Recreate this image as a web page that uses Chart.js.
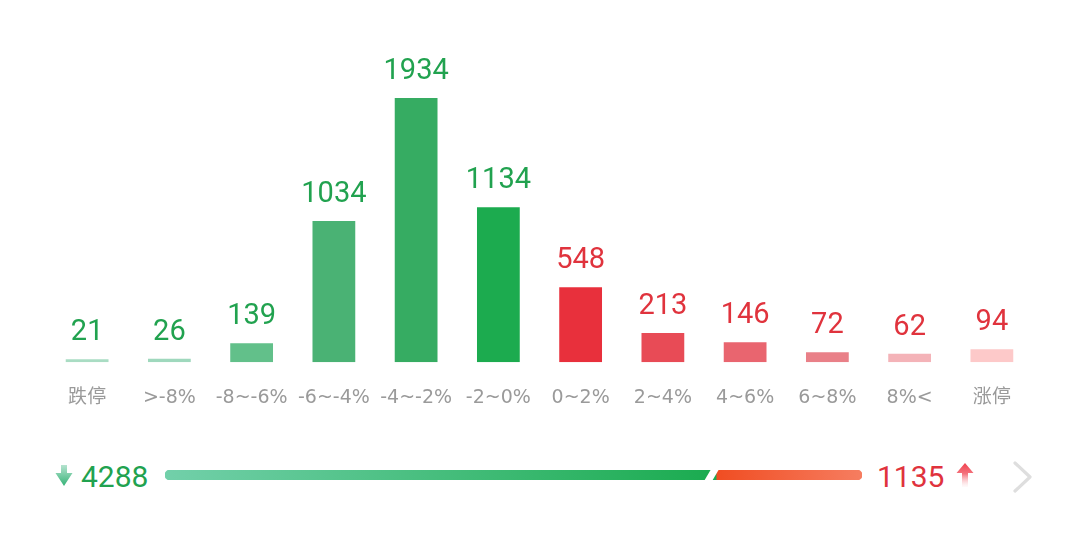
<!DOCTYPE html>
<html>
<head>
<meta charset="utf-8">
<script src="https://cdn.jsdelivr.net/npm/chart.js@4.4.1/dist/chart.umd.min.js"></script>
<style>
  html, body { margin: 0; padding: 0; background: #fff; }
  #wrap { position: relative; width: 1080px; height: 548px; overflow: hidden; font-family: Roboto, 'Noto Sans CJK SC', sans-serif; }
  #main { position: absolute; left: 0; top: 0; }
  #bar { position: absolute; left: 165px; top: 470px; }
  .num { position: absolute; top: 462px; font-size: 30px; line-height: 30px; font-weight: 400; }
  #down-num { left: 81px; color: #21a24f; }
  #up-num { left: 877px; color: #e0333d; }
  svg { position: absolute; }
</style>
</head>
<body>
<div id="wrap">
  <canvas id="main" width="1080" height="444"></canvas>
  <canvas id="bar" width="697" height="10"></canvas>

  <svg style="left:54px;top:464px" width="20" height="24" viewBox="0 0 20 24">
    <defs>
      <linearGradient id="gd" x1="0" y1="0" x2="0" y2="1">
        <stop offset="0" stop-color="#b5e3cf"/>
        <stop offset="1" stop-color="#36b377"/>
      </linearGradient>
    </defs>
    <path d="M7 1 H13 V9 H18.5 L10 22 L1.5 9 H7 Z" fill="url(#gd)"/>
  </svg>
  <div class="num" id="down-num"></div>

  <div class="num" id="up-num"></div>
  <svg style="left:955px;top:462px" width="20" height="26" viewBox="0 0 20 26">
    <defs>
      <linearGradient id="gu" x1="0" y1="0" x2="0" y2="1">
        <stop offset="0" stop-color="#f0414f"/>
        <stop offset="0.45" stop-color="#f4737d"/>
        <stop offset="1" stop-color="#fde5e7" stop-opacity="0.2"/>
      </linearGradient>
    </defs>
    <path d="M10 1 L18.5 11 H13 V25 H7 V11 H1.5 Z" fill="url(#gu)"/>
  </svg>

  <svg style="left:1010px;top:460px" width="26" height="34" viewBox="0 0 26 34">
    <polyline points="5,3 20,17 5,31" fill="none" stroke="#dedede" stroke-width="3.2" stroke-linejoin="round" stroke-linecap="round"/>
  </svg>
</div>

<script>
const categories = ['跌停', '>-8%', '-8~-6%', '-6~-4%', '-4~-2%', '-2~0%', '0~2%', '2~4%', '4~6%', '6~8%', '8%<', '涨停'];
const counts = [21, 26, 139, 1034, 1934, 1134, 548, 213, 146, 72, 62, 94];
const downTotal = 4288;
const upTotal = 1135;

const barColors = ['#a9dcc3', '#9fd8bd', '#62c08a', '#4ab274', '#36ac62', '#1cab4f',
                   '#e8303c', '#e84b56', '#e9656f', '#e98088', '#f4b3b8', '#fdc9c9'];
const greenText = '#21a24f';
const redText = '#e0333d';

document.querySelector('#down-num').textContent = downTotal;
document.querySelector('#up-num').textContent = upTotal;

const valueLabels = {
  id: 'valueLabels',
  afterDatasetsDraw(chart) {
    const ctx = chart.ctx;
    const meta = chart.getDatasetMeta(0);
    ctx.save();
    ctx.font = '400 29px Roboto';
    ctx.textAlign = 'center';
    ctx.textBaseline = 'alphabetic';
    meta.data.forEach((bar, i) => {
      ctx.fillStyle = i < 6 ? greenText : redText;
      ctx.fillText(String(counts[i]), bar.x, bar.y - 19);
    });
    ctx.restore();
  }
};

new Chart(document.querySelector('#main').getContext('2d'), {
  type: 'bar',
  data: {
    labels: categories,
    datasets: [{
      data: counts,
      backgroundColor: barColors,
      borderWidth: 0,
      categoryPercentage: 1,
      barPercentage: 0.52
    }]
  },
  options: {
    responsive: false,
    animation: false,
    devicePixelRatio: 1,
    layout: { padding: { left: 46, right: 47, top: 40, bottom: 11 } },
    plugins: { legend: { display: false }, tooltip: { enabled: false } },
    scales: {
      x: {
        grid: { display: false, drawTicks: false },
        border: { display: false },
        ticks: {
          color: '#9a9a9a',
          padding: 24,
          font: { family: "'DejaVu Sans', 'Noto Sans CJK SC'", size: 19 },
          maxRotation: 0,
          autoSkip: false
        }
      },
      y: { display: false, min: 0, max: 1934 * 322 / 264 }
    }
  },
  plugins: [valueLabels]
});

function barGradient(context, from, to, startVal, endVal) {
  const chart = context.chart;
  const area = chart.chartArea;
  if (!area) return from;
  const xs = chart.scales.x;
  const g = chart.ctx.createLinearGradient(xs.getPixelForValue(startVal), 0, xs.getPixelForValue(endVal), 0);
  g.addColorStop(0, from);
  g.addColorStop(1, to);
  return g;
}

const slantGap = {
  id: 'slantGap',
  afterDatasetsDraw(chart) {
    const ctx = chart.ctx;
    const x = chart.scales.x.getPixelForValue(downTotal);
    const top = chart.chartArea.top - 1;
    const bottom = chart.chartArea.bottom + 1;
    ctx.save();
    ctx.fillStyle = '#fff';
    ctx.beginPath();
    ctx.moveTo(x - 5, top);
    ctx.lineTo(x + 3, top);
    ctx.lineTo(x - 4, bottom);
    ctx.lineTo(x - 12, bottom);
    ctx.closePath();
    ctx.fill();
    ctx.restore();
  }
};

new Chart(document.querySelector('#bar').getContext('2d'), {
  type: 'bar',
  data: {
    labels: [''],
    datasets: [{
      data: [downTotal],
      backgroundColor: c => barGradient(c, '#72d0aa', '#1aab4f', 0, downTotal),
      borderRadius: { topLeft: 5, bottomLeft: 5, topRight: 0, bottomRight: 0 },
      borderSkipped: false,
      borderWidth: 0,
      categoryPercentage: 1,
      barPercentage: 1
    }, {
      data: [upTotal],
      backgroundColor: c => barGradient(c, '#f04d22', '#f67d60', downTotal, downTotal + upTotal),
      borderRadius: { topLeft: 0, bottomLeft: 0, topRight: 5, bottomRight: 5 },
      borderSkipped: false,
      borderWidth: 0,
      categoryPercentage: 1,
      barPercentage: 1
    }]
  },
  options: {
    indexAxis: 'y',
    responsive: false,
    animation: false,
    devicePixelRatio: 1,
    layout: { padding: 0 },
    plugins: { legend: { display: false }, tooltip: { enabled: false } },
    scales: {
      x: { display: false, stacked: true, min: 0, max: downTotal + upTotal },
      y: { display: false, stacked: true }
    }
  },
  plugins: [slantGap]
});
</script>
</body>
</html>
